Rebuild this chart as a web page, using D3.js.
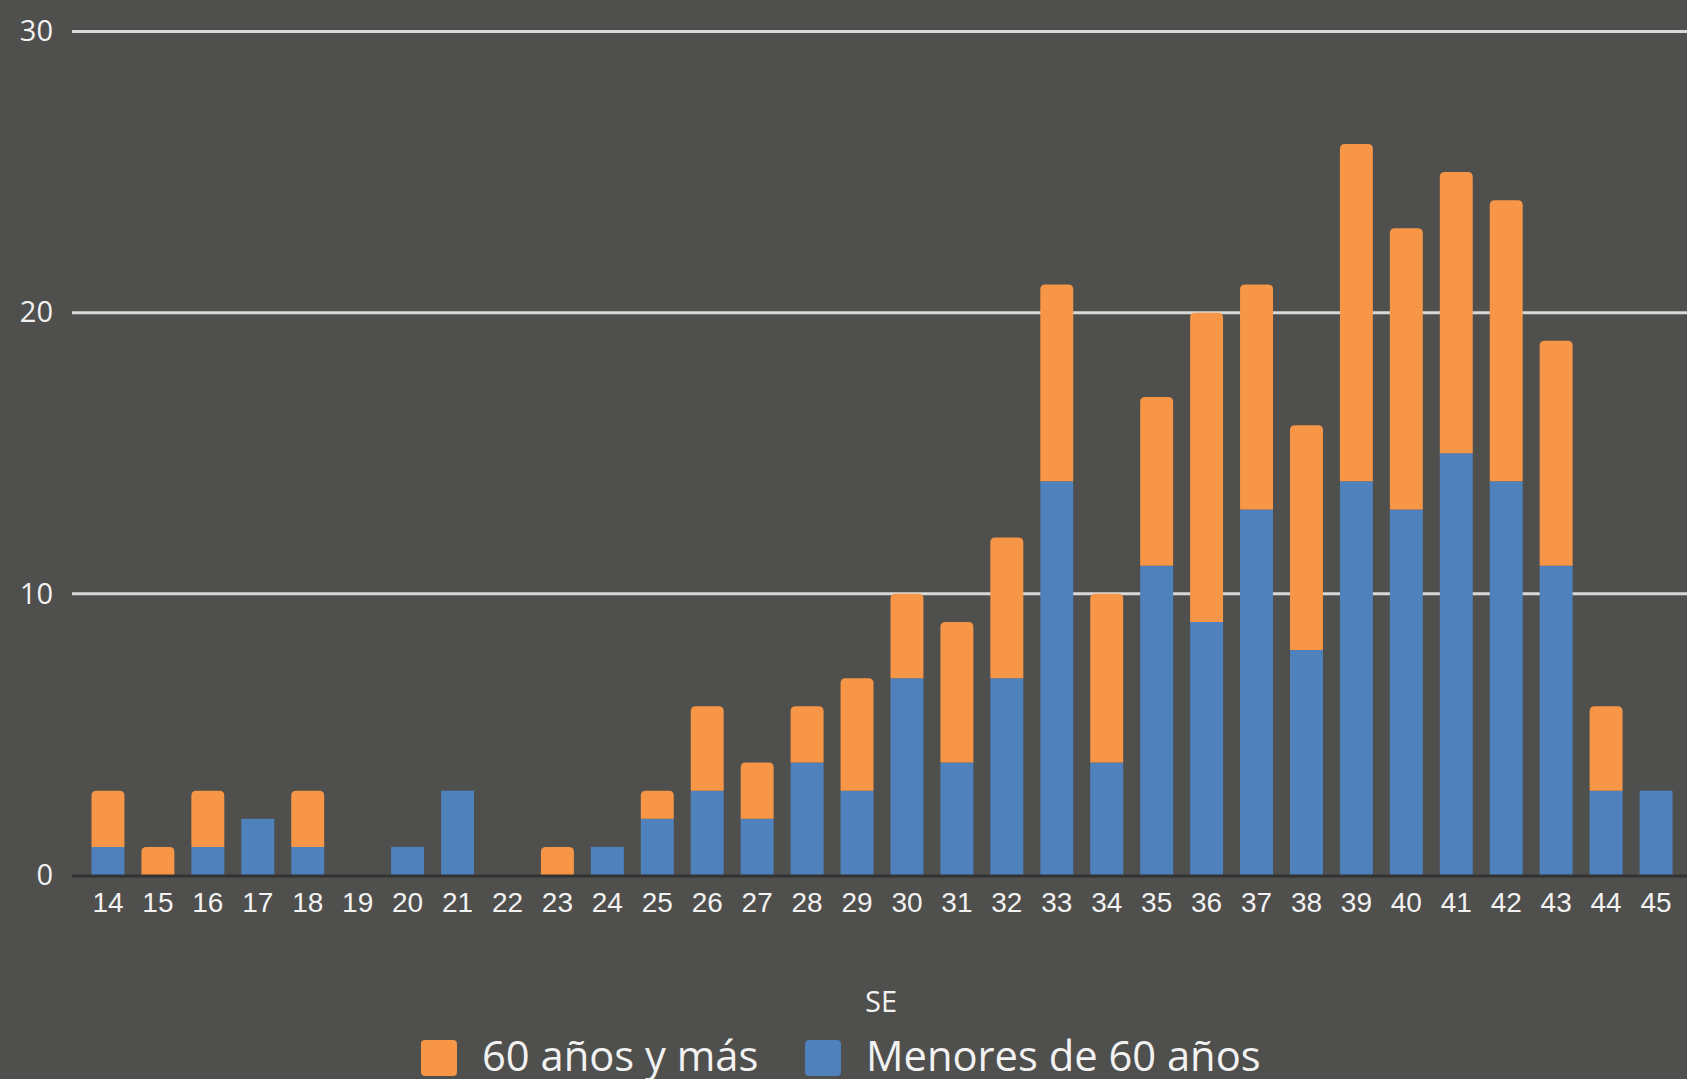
<!DOCTYPE html>
<html>
<head>
<meta charset="utf-8">
<script src="https://cdn.jsdelivr.net/npm/d3@7"></script>
<style>
  html, body { margin: 0; padding: 0; background: #4f4f4d; }
  svg { display: block; }
</style>
</head>
<body>
<div id="chart"></div>
<script>
// semanas epidemiologicas
var weeks = ["14","15","16","17","18","19","20","21","22","23","24","25","26","27","28","29",
             "30","31","32","33","34","35","36","37","38","39","40","41","42","43","44","45"];
var menores60 = [1,0,1,2,1,0,1,3,0,0,1,2,3,2,4,3,7,4,7,14,4,11,9,13,8,14,13,15,14,11,3,3];
var mayores60 = [2,1,2,0,2,0,0,0,0,1,0,1,3,2,2,4,3,5,5,7,6,6,11,8,8,12,10,10,10,8,3,0];
var yTicks = [0, 10, 20, 30];
var seriesNames = ["60 años y más", "Menores de 60 años"];
var colors = { orange: "#f79646", blue: "#4f81bd" };

var width = 1687, height = 1079;

var svg = d3.select("#chart").append("svg")
    .attr("width", width)
    .attr("height", height);

var x = d3.scaleBand()
    .domain(weeks)
    .range([83, 1681])
    .paddingInner(0.34)
    .paddingOuter(0.17);

var y = d3.scaleLinear()
    .domain([0, 30])
    .range([875, 31.5]);

// grid lines
svg.append("g")
    .selectAll("line")
    .data(yTicks.filter(function(d){ return d > 0; }))
    .enter().append("line")
    .attr("x1", 72)
    .attr("x2", width)
    .attr("y1", function(d){ return y(d); })
    .attr("y2", function(d){ return y(d); })
    .style("stroke", "#d9d9d9")
    .style("stroke-width", "3px");

// y labels
var yAxis = svg.append("g")
    .attr("transform", "translate(72,0)")
    .call(d3.axisLeft(y).tickValues(yTicks).tickSize(0).tickPadding(19));
yAxis.select(".domain").remove();
yAxis.selectAll("text")
    .style("font-family", "'Open Sans', sans-serif")
    .style("font-size", "29px")
    .style("fill", "#f2f2f2");

// bars
var bars = svg.append("g");
weeks.forEach(function(w, i){
    var b = menores60[i], o = mayores60[i];
    if (b > 0) {
        bars.append("rect")
            .attr("x", x(w))
            .attr("y", y(b))
            .attr("width", x.bandwidth())
            .attr("height", y(0) - y(b))
            .style("fill", colors.blue);
    }
    if (o > 0) {
        var top = y(b + o), bot = y(b), bx = x(w), bw = x.bandwidth(), r = 5;
        var p = d3.path();
        p.moveTo(bx, bot);
        p.lineTo(bx, top + r);
        p.quadraticCurveTo(bx, top, bx + r, top);
        p.lineTo(bx + bw - r, top);
        p.quadraticCurveTo(bx + bw, top, bx + bw, top + r);
        p.lineTo(bx + bw, bot);
        p.closePath();
        bars.append("path")
            .attr("d", p.toString())
            .style("fill", colors.orange);
    }
});

// x axis line
svg.append("line")
    .attr("x1", 72).attr("x2", width)
    .attr("y1", y(0) + 1).attr("y2", y(0) + 1)
    .style("stroke", "#333333")
    .style("stroke-width", "3px");

var xAxis = svg.append("g")
    .attr("transform", "translate(0," + y(0) + ")")
    .call(d3.axisBottom(x).tickSize(0).tickPadding(17));
xAxis.select(".domain").remove();
xAxis.selectAll("text")
    .style("font-family", "'Liberation Sans', Arial, sans-serif")
    .style("font-size", "28px")
    .style("fill", "#f2f2f2");

// axis title
svg.append("text")
    .attr("x", 881)
    .attr("y", 1012)
    .attr("text-anchor", "middle")
    .style("font-family", "'Open Sans', sans-serif")
    .style("font-size", "29px")
    .style("fill", "#f2f2f2")
    .text("SE");

// legend
var legendItems = [
    { name: seriesNames[0], color: colors.orange, x: 421, tx: 482 },
    { name: seriesNames[1], color: colors.blue, x: 805, tx: 866 }
];
var legend = svg.append("g");
legendItems.forEach(function(d){
    legend.append("rect")
        .attr("x", d.x).attr("y", 1040)
        .attr("width", 36).attr("height", 36)
        .attr("rx", 4)
        .style("fill", d.color);
    legend.append("text")
        .attr("x", d.tx).attr("y", 1071)
        .style("font-family", "'Open Sans', sans-serif")
        .style("font-size", "41.7px")
        .style("fill", "#f2f2f2")
        .text(d.name);
});
</script>
</body>
</html>
